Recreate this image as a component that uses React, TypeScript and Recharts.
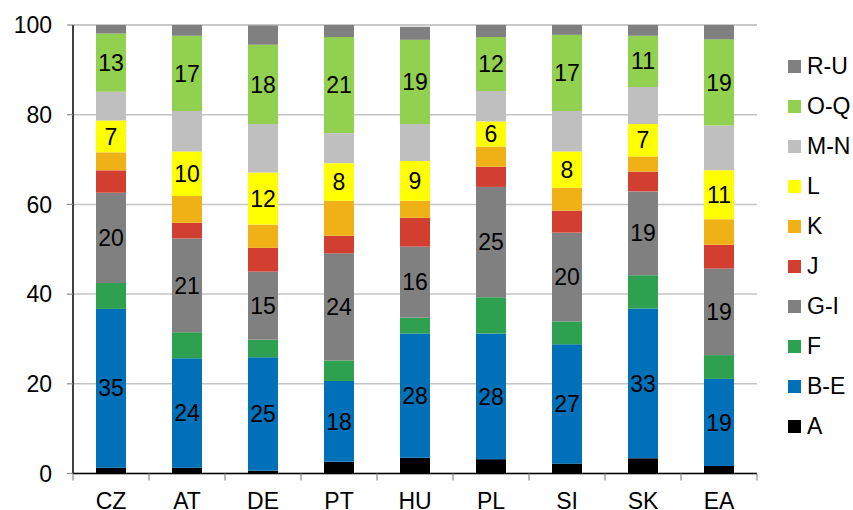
import React from "react";
import { BarChart, Bar, XAxis, YAxis, CartesianGrid, Legend, LabelList } from "recharts";

const CATEGORIES = ["CZ", "AT", "DE", "PT", "HU", "PL", "SI", "SK", "EA"];

const A = [1.3, 1.3, 0.6, 2.6, 3.5, 3.2, 2.2, 3.4, 1.7];
const BE = [35.4, 24.4, 25.3, 18.0, 27.7, 28.0, 26.6, 33.4, 19.4];
const F = [5.8, 5.8, 3.9, 4.6, 3.5, 8.1, 5.1, 7.4, 5.3];
const GI = [20.1, 20.9, 15.2, 23.9, 15.9, 24.6, 19.8, 18.7, 19.3];
const J = [5.0, 3.5, 5.3, 3.9, 6.4, 4.5, 4.9, 4.4, 5.3];
const K = [4.0, 6.0, 5.2, 7.8, 3.8, 4.5, 5.1, 3.4, 5.7];
const L = [7.1, 9.9, 11.6, 8.4, 8.9, 5.6, 8.1, 7.2, 10.9];
const MN = [6.4, 9.0, 10.8, 6.7, 8.2, 6.8, 9.0, 8.3, 10.0];
const OQ = [13.0, 16.8, 17.7, 21.4, 18.8, 12.0, 17.0, 11.4, 19.2];
const RU = [1.9, 2.4, 4.3, 2.7, 2.9, 2.7, 2.2, 2.4, 3.2];

const Y_TICKS = [0, 20, 40, 60, 80, 100];

const SERIES = [
  { key: "A", values: A, color: "#000000", label: false },
  { key: "B-E", values: BE, color: "#0070B8", label: true },
  { key: "F", values: F, color: "#2DA14F", label: false },
  { key: "G-I", values: GI, color: "#808080", label: true },
  { key: "J", values: J, color: "#D23F31", label: false },
  { key: "K", values: K, color: "#EFB115", label: false },
  { key: "L", values: L, color: "#FFFF00", label: true },
  { key: "M-N", values: MN, color: "#BFBFBF", label: false },
  { key: "O-Q", values: OQ, color: "#92D050", label: true },
  { key: "R-U", values: RU, color: "#808080", label: false },
];

const data = CATEGORIES.map((c, i) => {
  const row: any = { name: c };
  SERIES.forEach((s) => {
    row[s.key] = s.values[i];
  });
  return row;
});

const FONT = '"Liberation Sans", Arial, sans-serif';
const FS = 23;
const BAND = 684 / 9;

const XTick = (props: any) => {
  const { x, y, payload, index } = props;
  const axisY = y - 19;
  const half = BAND / 2;
  return (
    <g>
      <line x1={x - half} x2={x - half} y1={axisY} y2={axisY + 7} stroke="#8c8c8c" strokeWidth={1.2} />
      {index === CATEGORIES.length - 1 && (
        <line x1={x + half} x2={x + half} y1={axisY} y2={axisY + 7} stroke="#8c8c8c" strokeWidth={1.2} />
      )}
      <text x={x} y={y} dy="0.71em" textAnchor="middle" fontSize={FS} fontFamily={FONT} fill="#000">
        {payload.value}
      </text>
    </g>
  );
};

const LegendContent = () => {
  const items = [...SERIES].reverse();
  return (
    <div style={{ fontFamily: FONT, fontSize: FS, color: "#000" }}>
      {items.map((s) => (
        <div key={s.key} style={{ height: 40, display: "flex", alignItems: "center" }}>
          <span style={{ width: 13, height: 13, background: s.color, display: "inline-block", marginRight: 6 }} />
          <span style={{ lineHeight: "23px" }}>{s.key}</span>
        </div>
      ))}
    </div>
  );
};

export default function App() {
  return (
    <div style={{ position: "absolute", left: 0, top: 0, width: 853, height: 510, background: "#fff", overflow: "hidden" }}>
      <span
        style={{
          position: "absolute",
          left: 693,
          top: -24,
          fontFamily: FONT,
          fontSize: FS,
          lineHeight: "23px",
          color: "#000",
        }}
      >
        (%)
      </span>
      <BarChart
        width={853}
        height={510}
        data={data}
        margin={{ top: 25, right: 96, bottom: 0, left: 0 }}
        barSize={30}
      >
        <CartesianGrid vertical={false} stroke="#c4c4c4" strokeWidth={1.5} />
        <XAxis
          dataKey="name"
          height={36.5}
          axisLine={{ stroke: "#000", strokeWidth: 1.5 }}
          tickLine={false}
          tickSize={6}
          tickMargin={13}
          tick={<XTick />}
          interval={0}
        />
        <YAxis
          width={73}
          domain={[0, 100]}
          ticks={Y_TICKS}
          interval={0}
          axisLine={{ stroke: "#000", strokeWidth: 1.5 }}
          tickLine={{ stroke: "#8c8c8c", strokeWidth: 1.2 }}
          tickSize={6}
          tickMargin={15}
          tick={{ fontSize: FS, fontFamily: FONT, fill: "#000" }}
        />
        <Legend
          layout="horizontal"
          align="center"
          verticalAlign="middle"
          content={<LegendContent />}
          wrapperStyle={{ position: "absolute", left: 788, top: 46.7, width: 65, height: 400 }}
        />
        {SERIES.map((s) => (
          <Bar key={s.key} dataKey={s.key} stackId="a" fill={s.color} isAnimationActive={false}>
            {s.label && (
              <LabelList
                dataKey={s.key}
                position="center"
                formatter={(v: any) => Math.round(Number(v))}
                fill="#000"
                fontSize={FS}
                fontFamily={FONT}
              />
            )}
          </Bar>
        ))}
      </BarChart>
    </div>
  );
}
